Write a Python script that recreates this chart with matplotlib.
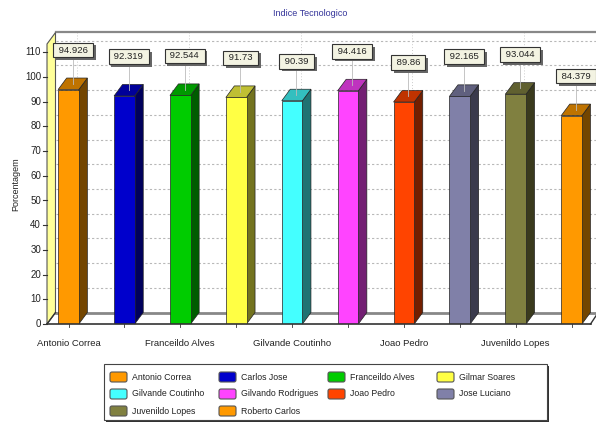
import matplotlib
matplotlib.use("Agg")
import matplotlib.pyplot as plt
from matplotlib.patches import Polygon, Rectangle, FancyBboxPatch
from matplotlib import font_manager as fm
import matplotlib.patheffects as pe
import matplotlib.colors as mcolors
import numpy as np

# ---------------- data ----------------
names = ["Antonio Correa", "Carlos Jose", "Franceildo Alves", "Gilmar Soares",
         "Gilvande Coutinho", "Gilvando Rodrigues", "Joao Pedro", "Jose Luciano",
         "Juvenildo Lopes", "Roberto Carlos"]
values = [94.926, 92.319, 92.544, 91.73, 90.39, 94.416, 89.86, 92.165, 93.044, 84.379]
value_labels = ["94.926", "92.319", "92.544", "91.73", "90.39", "94.416", "89.86",
                "92.165", "93.044", "84.379"]
colors = ["#FF9900", "#0000CC", "#00CC00", "#FFFF44", "#44FFFF", "#FF44FF",
          "#FF4400", "#8080A8", "#808040", "#FF9900"]
yticks = list(range(0, 111, 10))
title = "Indice Tecnologico"
ylabel = "Porcentagem"

# ---------------- fonts ----------------
avail = {f.name for f in fm.fontManager.ttflist}
fam = [f for f in ["Liberation Sans Narrow", "Liberation Sans", "DejaVu Sans"] if f in avail]
plt.rcParams["font.family"] = fam

W, H = 596, 423
fig = plt.figure(figsize=(W / 100, H / 100), dpi=100)

# front plane geometry (pixels)
px_left, px_right = 47, 588
py_bottom, py_top = 324, 44
c_per_px = 1 / 55.9
v_per_px = 1 / 2.47
xlim = ((px_left - 68.5) * c_per_px, (px_right - 68.5) * c_per_px)
ylim = (0, (py_bottom - py_top) * v_per_px)

ax = fig.add_axes([px_left / W, 1 - py_bottom / H, (px_right - px_left) / W,
                   (py_bottom - py_top) / H])
ax.set_xlim(*xlim)
ax.set_ylim(*ylim)
ax.axis("off")

dx = 8.5 * c_per_px
dy = 11.5 * v_per_px
x0, x1 = xlim
ytop = ylim[1]
xr_back = x1 + 2 * dx

def darker(c, f):
    r, g, b = mcolors.to_rgb(c)
    return (r * f, g * f, b * f)

# back wall gridlines
for v in yticks[1:]:
    ax.plot([x0 + dx, xr_back], [v + dy, v + dy], color="#B8B8B8", lw=0.8,
            ls=(0, (2, 2)), zorder=1, clip_on=False)
for c in range(0, len(names), 2):
    ax.plot([c + dx, c + dx], [dy, ytop + dy], color="#CCCCCC", lw=0.7,
            ls=(0, (1, 2)), zorder=1, clip_on=False)
# top border
ax.plot([x0 + dx, xr_back], [ytop + dy, ytop + dy], color="#888888", lw=1.6,
        zorder=2, clip_on=False)

# left wall (yellow)
wall = Polygon([(x0, 0), (x0 + dx, dy), (x0 + dx, ytop + dy), (x0, ytop)],
               closed=True, fc="#FFFF99", ec="#555555", lw=0.8, zorder=2, clip_on=False)
ax.add_patch(wall)

# floor
ax.plot([x0 + dx, xr_back], [dy, dy], color="#888888", lw=2.0, zorder=2, clip_on=False)
ax.plot([x0, x1 + dx * 0.3], [0, 0], color="#333333", lw=1.2, zorder=6, clip_on=False)
ax.plot([x0, x0 + dx], [0, dy], color="#333333", lw=1.0, zorder=6, clip_on=False)
ax.plot([x1 + dx * 0.3, x1 + dx * 1.2], [0, dy], color="#333333", lw=1.0, zorder=6,
        clip_on=False)

# bars
cats = np.arange(len(names))
bw = 0.37
ax.bar(cats, values, width=bw, color=colors, edgecolor="#222222", lw=0.5, zorder=4)
for c, v, col in zip(cats, values, colors):
    side = Polygon([(c + bw / 2, 0), (c + bw / 2 + dx, dy), (c + bw / 2 + dx, v + dy),
                    (c + bw / 2, v)], closed=True, fc=darker(col, 0.45), ec="#222222",
                   lw=0.5, zorder=3, clip_on=False)
    top = Polygon([(c - bw / 2, v), (c + bw / 2, v), (c + bw / 2 + dx, v + dy),
                   (c - bw / 2 + dx, v + dy)], closed=True, fc=darker(col, 0.75),
                  ec="#222222", lw=0.5, zorder=3, clip_on=False)
    ax.add_patch(side)
    ax.add_patch(top)

# value labels
for c, v, lab in zip(cats, values, value_labels):
    lx = c + dx / 2
    ly = v + 16
    ax.plot([lx, lx], [v + dy / 2, ly - 2.5], color="#BBBBBB", lw=0.6, zorder=5,
            clip_on=False)
    t = ax.text(lx, ly, " " + lab + " ", ha="center", va="center", fontsize=6.8,
                color="#222222", zorder=7,
                bbox=dict(boxstyle="square,pad=0.3", fc="#F3F3E2", ec="#333333", lw=0.8))
    t.get_bbox_patch().set_path_effects([
        pe.SimplePatchShadow(offset=(2, -2), shadow_rgbFace="#666666", alpha=1.0),
        pe.Normal()])

# y ticks
for v in yticks:
    ax.plot([x0 - 4 * c_per_px, x0], [v, v], color="#333333", lw=0.8, clip_on=False)
    ax.text(x0 - 6 * c_per_px, v, str(v), ha="right", va="center", fontsize=7,
            color="#222222")
# x ticks
for c in cats:
    ax.plot([c, c], [0, -3 * v_per_px], color="#333333", lw=0.6, clip_on=False)
for c in range(0, len(names), 2):
    ax.text(c, -19 * v_per_px, names[c], ha="center", va="center", fontsize=6.8,
            color="#222222")

fig.text(310 / W, 1 - 14 / H, title, ha="center", va="center", fontsize=6.5,
         color="#333399")
fig.text(16 / W, 1 - 184 / H, ylabel, ha="center", va="center", rotation=90,
         fontsize=6.5, color="#222222")

# legend (manual, figure pixel coordinates)
lg = fig.add_axes([0, 0, 1, 1], zorder=10)
lg.set_xlim(0, W)
lg.set_ylim(H, 0)
lg.axis("off")
lg.add_patch(Rectangle((106, 366), 443, 56, fc="#333333", ec="none"))
lg.add_patch(Rectangle((104, 364), 443, 56, fc="white", ec="#444444", lw=0.8))
col_x = [110, 219, 328, 437]
row_y = [377, 394, 411]
for i, (nm, col) in enumerate(zip(names, colors)):
    r, k = divmod(i, 4)
    x = col_x[k]
    y = row_y[r]
    lg.add_patch(FancyBboxPatch((x, y - 5), 17, 10, boxstyle="round,pad=0,rounding_size=2",
                                fc=col, ec="#555555", lw=0.8))
    lg.text(x + 22, y, nm, ha="left", va="center", fontsize=6.3, color="#222222")

fig.savefig("out.png", dpi=100)
